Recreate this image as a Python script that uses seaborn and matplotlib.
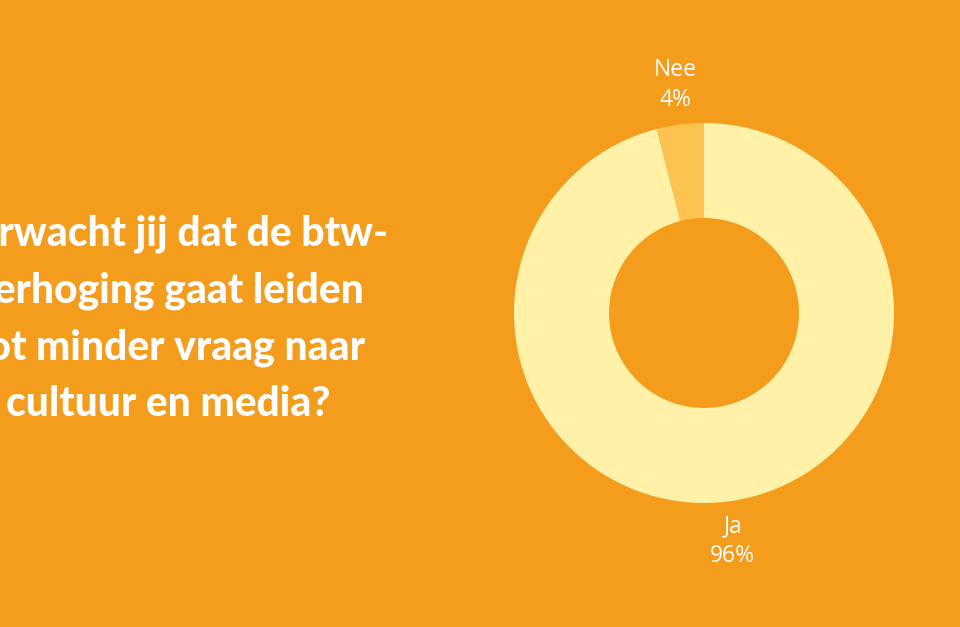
import matplotlib
matplotlib.use("Agg")
import matplotlib.pyplot as plt
import seaborn as sns

categories = ["Ja", "Nee"]
values = [96, 4]
pct_labels = ["96%", "4%"]
title_lines = ["Verwacht jij dat de btw-", "verhoging gaat leiden", "tot minder vraag naar", "cultuur en media?"]

bg = "#F49C1C"
colors = ["#FFF1A8", "#FDC350"]

sns.set_theme(style="white")
plt.rcParams['font.family'] = ['Lato', 'DejaVu Sans']

W, H = 960, 627
fig = plt.figure(figsize=(W / 100, H / 100), dpi=100, facecolor=bg)

cx, cy, r = 704, 313, 190
ax = fig.add_axes([(cx - r) / W, (H - cy - r) / H, 2 * r / W, 2 * r / H])
ax.set_facecolor(bg)
ax.axis("off")

labels = [f"{c}\n{p}" for c, p in zip(categories, pct_labels)]
wedges, texts = ax.pie(values, colors=colors, startangle=90, counterclock=False,
                       radius=1, labels=labels, labeldistance=1.21,
                       wedgeprops=dict(width=0.5, linewidth=0),
                       textprops=dict(color="white", fontsize=16.5, fontweight="normal",
                                      family=["Open Sans", "DejaVu Sans"],
                                      ha="center", va="center", linespacing=1.35))
ax.set_xlim(-1, 1)
ax.set_ylim(-1, 1)
ax.set_aspect("equal")

fig.text(168 / W, 1 - 319 / H, "\n".join(title_lines), color="white", fontsize=29.3,
         fontweight="black", ha="center", va="center", multialignment="center",
         linespacing=1.59)

fig.savefig("out.png", dpi=100, facecolor=bg)
